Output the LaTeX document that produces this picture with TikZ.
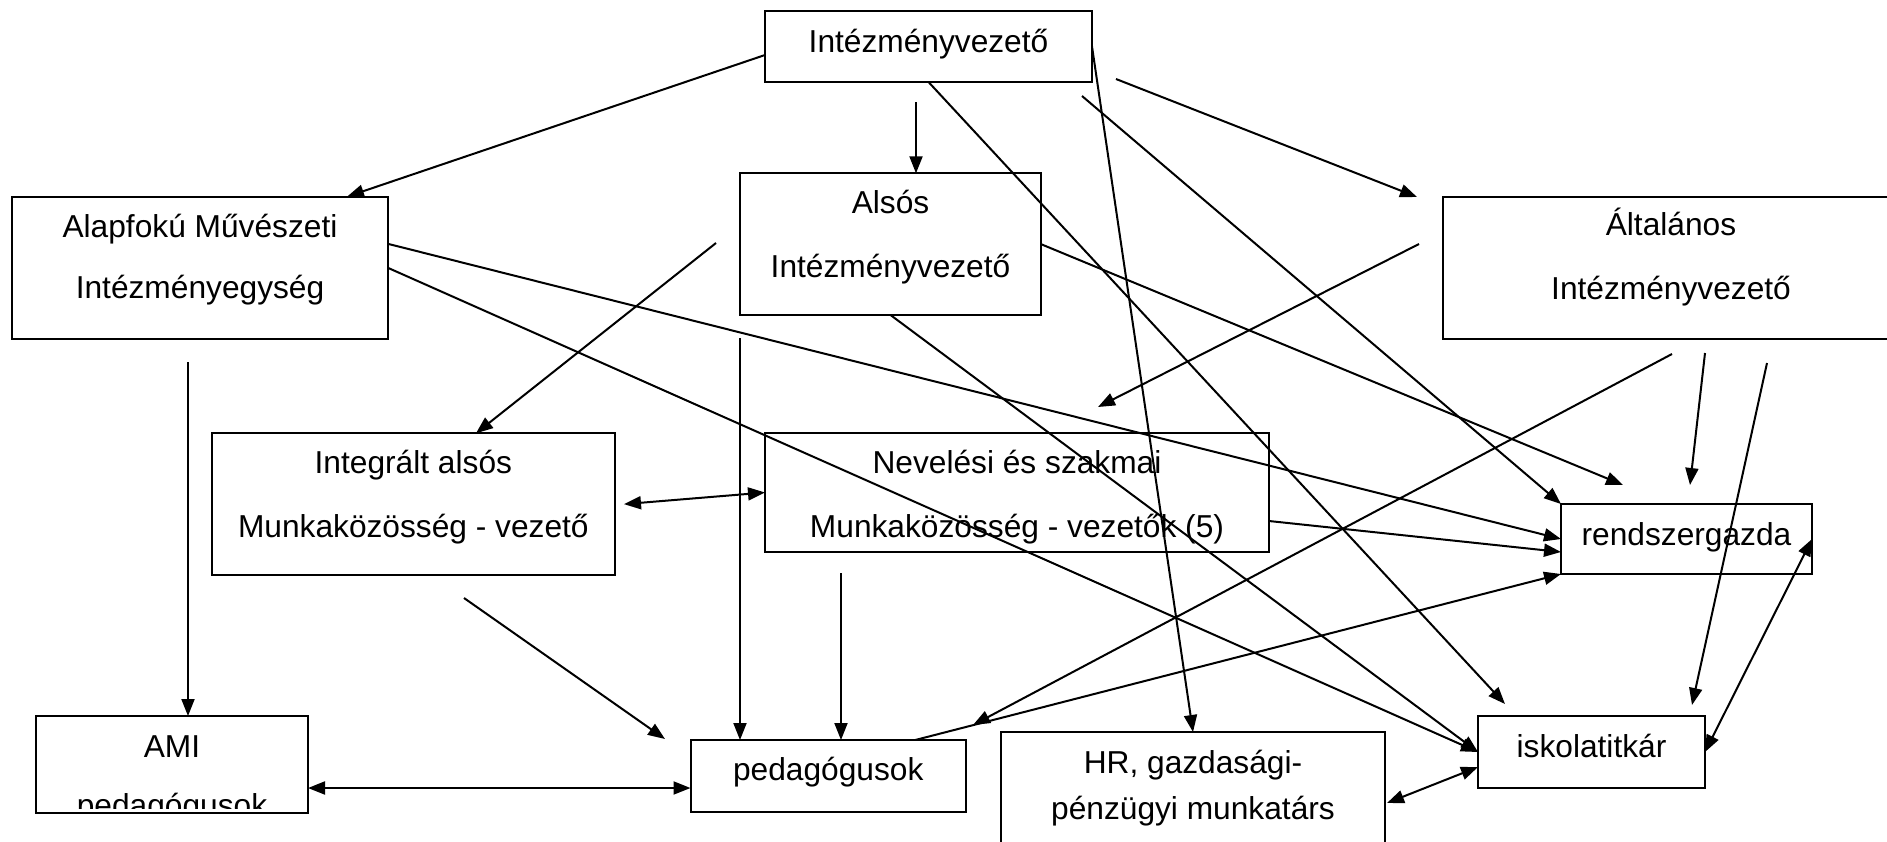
\documentclass[tikz,border=0pt]{standalone}
\usepackage{fontspec}
\setmainfont{Liberation Sans}
\usepackage{trimclip}
\usetikzlibrary{arrows.meta}

\begin{document}
\begin{tikzpicture}[x=1pt, y=-1pt, line width=2pt,
    >={Triangle[length=17pt,width=13pt]},
    box/.style={rectangle, draw=black, anchor=north west, inner sep=0pt, outer sep=0pt,
      align=center, font=\fontsize{31.7pt}{63.5pt}\selectfont}]
      %\draw[help lines] (0,0) grid (1887,841);
      \useasboundingbox (0,0) rectangle (1887,841);
      \clip (0,0) rectangle (1887,841);

      \node [box, minimum width=327pt, text height=41pt, text depth=30pt] (iv) at (765,11) {Intézményvezető};
      \node [box, minimum width=376pt, text height=102pt, text depth=40.3pt, font=\fontsize{31.7pt}{61pt}\selectfont] (amu) at (12,196.7) {Alapfokú Művészeti\\Intézményegység};
      \node [box, minimum width=301pt, text height=104pt, text depth=37.7pt] (als) at (740,173.3) {Alsós\\Intézményvezető};
      \node [box, minimum width=456pt, text height=102pt, text depth=40pt] (alt) at (1443,197) {Általános\\Intézményvezető};

      \node [box, minimum width=403.3pt, text height=104pt, text depth=37.7pt] (int) at (211.7,433.3) {Integrált alsós\\Munkaközösség - vezető};
      \node [box, minimum width=504pt, text height=104pt, text depth=14.4pt] (nev) at (765,433.3) {Nevelési és szakmai\\Munkaközösség - vezetők (5)};
      \node [box, minimum width=251pt, text height=41pt, text depth=29pt] (rg) at (1561,504) {rendszergazda};

      \node [box, minimum width=272pt, text height=92.5pt, text depth=4.5pt, font=\fontsize{31.7pt}{51.5pt}\selectfont] (ami) at (36,716) {AMI\\\clipbox{0pt {\depth+7.8pt} 0pt 0pt}{pedagógusok}};
      \node [box, minimum width=275.5pt, text height=40pt, text depth=32pt] (ped) at (690.5,740) {pedagógusok};
      \node [box, minimum width=384pt, text height=87.7pt, text depth=42.3pt, font=\fontsize{31.7pt}{46.7pt}\selectfont] (hr) at (1001,732) {HR, gazdasági-\\pénzügyi munkatárs};
      \node [box, minimum width=227pt, text height=41pt, text depth=31pt] (it) at (1478,716) {iskolatitkár};

      % free ends
      \coordinate (iv_als) at (916,102);
      \coordinate (iv_alt1) at (1116,79);
      \coordinate (iv_alt2) at (1417,197);
      \coordinate (iv_it) at (1505,704);
      \coordinate (iv_rg) at (1082,96);
      \coordinate (als_int) at (716,243);
      \coordinate (als_rg) at (1623,485);
      \coordinate (als_ped) at (740,338);
      \coordinate (amu_ami) at (188,362);
      \coordinate (int_ped1) at (464,598);
      \coordinate (int_ped2) at (665,739);
      \coordinate (nev_ped) at (841,573);
      \coordinate (alt_ped1) at (1672,354);
      \coordinate (alt_ped2) at (973,725);
      \coordinate (alt_nev1) at (1419,244);
      \coordinate (alt_nev2) at (1098,407);
      \coordinate (alt_rg1) at (1705,353);
      \coordinate (alt_rg2) at (1690,485);
      \coordinate (alt_it1) at (1767,363);
      \coordinate (alt_it2) at (1692,705);
      \coordinate (hr_it) at (1387,803);

      \draw[->] ([yshift=-8.5pt]iv.west) -- ([xshift=147pt]amu.north);
      \draw[->] (iv_als) -- (iv_als |- als.north);
      \draw[->] (iv_alt1) -- (iv_alt2);
      \draw[->] (iv.south) -- (iv_it);
      \draw[->] (iv.east) -- (hr.north);
      \draw[->] (iv_rg) -- (rg.north west);

      \draw[->] (als_int) -- ([xshift=62.6pt]int.north);
      \draw[->] (als.south) -- (it.west);
      \draw[->] (als.east) -- (als_rg);
      \draw[->] (als_ped) -- (als_ped |- ped.north);

      \draw[->] (amu_ami) -- (amu_ami |- ami.north);
      \draw[->] ([yshift=24pt]amu.east) -- (rg.west);
      \draw[->] (amu.east) -- (it.west);

      \draw[<->] ([xshift=9pt]int.east) -- (nev.west);
      \draw[->] (int_ped1) -- (int_ped2);
      \draw[->] (nev_ped) -- (nev_ped |- ped.north);
      \draw[->] ([yshift=-28.5pt]nev.east) -- ([yshift=-13pt]rg.west);
      \draw[->] ([xshift=87pt]ped.north) -- (rg.south west);

      \draw[->] (alt_ped1) -- (alt_ped2);
      \draw[->] (alt_nev1) -- (alt_nev2);
      \draw[->] (alt_rg1) -- (alt_rg2);
      \draw[->] (alt_it1) -- (alt_it2);

      \draw[<->] (it.east) -- (rg.east);
      \draw[<->] (hr_it) -- ([yshift=-15pt]it.west);
      \draw[<->] ([yshift=-23.5pt]ami.east) -- ([yshift=-23.5pt]ami.east -| ped.west);

    \end{tikzpicture}
\end{document}
